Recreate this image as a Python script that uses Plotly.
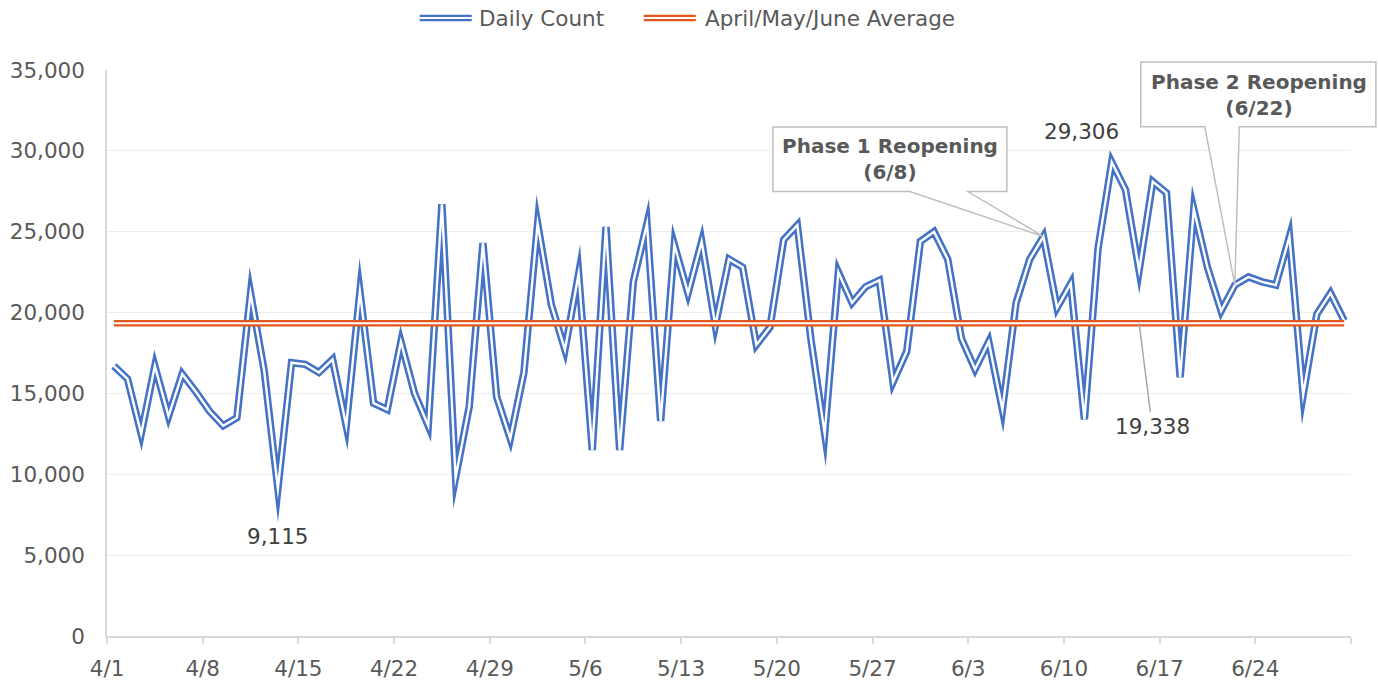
import plotly.graph_objects as go
import pandas as pd

# ---------------- data ----------------
DATES = pd.date_range("2020-04-01", "2020-06-30", freq="D")
DAILY_COUNT = [
    16700, 15900, 12500, 16700, 13600, 16200, 15100, 13900, 13000, 13500,   # 4/1-4/10
    21200, 16400, 9115, 16900, 16800, 16300, 17100, 13000, 21300, 14400,    # 4/11-4/20
    14000, 18200, 15000, 13000, 26700, 9800, 14200, 24300, 14800, 12200,    # 4/21-4/30
    16300, 25500, 20500, 17700, 22400, 11500, 25300, 11500, 21900, 25500,   # 5/1-5/10
    13300, 24200, 21200, 24400, 19200, 23300, 22800, 18000, 19100, 24500,   # 5/11-5/20
    25400, 18300, 12500, 22500, 20600, 21600, 22000, 15700, 17600, 24400,   # 5/21-5/30
    25000,                                                                  # 5/31
    23300, 18400, 16500, 18200, 14000, 20600, 23300, 24700, 20300, 21800,   # 6/1-6/10
    13400, 24000, 29306, 27600, 22600, 28100, 27400, 16000, 26400, 22800,   # 6/11-6/20
    20100, 21700, 22200, 21900, 21700, 24700, 14900, 19900, 21200, 19500,   # 6/21-6/30
]
AVERAGE = 19338
SERIES_NAMES = ["Daily Count", "April/May/June Average"]
TICK_DATES = pd.date_range("2020-04-01", "2020-07-01", freq="7D")
TICK_LABELS = ["4/1", "4/8", "4/15", "4/22", "4/29", "5/6", "5/13", "5/20",
               "5/27", "6/3", "6/10", "6/17", "6/24", ""]
Y_TICKS = [0, 5000, 10000, 15000, 20000, 25000, 30000, 35000]
MIN_DAY, MAX_DAY, PHASE1_DAY, PHASE2_DAY, AVG_LABEL_DAY = 12, 73, 68, 82, 75

# ---------------- style ----------------
BLUE = "#4472C4"
ORANGE = "#E2571E"
FONT = "DejaVu Sans"
TXT = "#595959"
FS = 21.5

X = DATES + pd.Timedelta(hours=12)   # points centred between day ticks
AVG = [AVERAGE] * len(DATES)

fig = go.Figure()
fig.add_trace(go.Scatter(x=X, y=DAILY_COUNT, mode="lines", name=SERIES_NAMES[0],
                         line=dict(color=BLUE, width=7.5), showlegend=False, hoverinfo="skip"))
fig.add_trace(go.Scatter(x=X, y=DAILY_COUNT, mode="lines", name=SERIES_NAMES[0],
                         line=dict(color="white", width=2.4), showlegend=False))
fig.add_trace(go.Scatter(x=X, y=AVG, mode="lines", name=SERIES_NAMES[1],
                         line=dict(color=ORANGE, width=6.5), showlegend=False, hoverinfo="skip"))
fig.add_trace(go.Scatter(x=X, y=AVG, mode="lines", name=SERIES_NAMES[1],
                         line=dict(color="white", width=2.0), showlegend=False))

shapes = []
annotations = []

# manual legend (double-line symbols)
def legend_item(x0, x1, xt, color, text):
    shapes.append(dict(type="line", xref="paper", yref="paper", x0=x0, x1=x1,
                       y0=1.0918, y1=1.0918, line=dict(color=color, width=6.5)))
    shapes.append(dict(type="line", xref="paper", yref="paper", x0=x0, x1=x1,
                       y0=1.0918, y1=1.0918, line=dict(color="white", width=2)))
    annotations.append(dict(xref="paper", yref="paper", x=xt, y=1.0918, text=text,
                            showarrow=False, xanchor="left", yanchor="middle",
                            font=dict(family=FONT, size=FS, color=TXT)))

legend_item(0.2514, 0.2932, 0.2973, BLUE, SERIES_NAMES[0])
legend_item(0.4315, 0.4733, 0.4790, ORANGE, SERIES_NAMES[1])

# callout boxes (paper coordinates)
def callout(left, right, bottom, top, w0, w1, tipx, tipy, text, cx, cy):
    path = (f"M {left},{top} L {right},{top} L {right},{bottom} L {w1},{bottom} "
            f"L {tipx},{tipy} L {w0},{bottom} L {left},{bottom} Z")
    shapes.append(dict(type="path", xref="paper", yref="paper", path=path,
                       fillcolor="white", line=dict(color="#BFBFBF", width=1.5),
                       layer="above"))
    annotations.append(dict(xref="paper", yref="paper", x=cx, y=cy, text=text,
                            showarrow=False, xanchor="center", yanchor="middle",
                            font=dict(family=FONT, size=20, color=TXT, weight="bold")))

callout(0.5353, 0.7234, 0.7852, 0.8994, 0.6454, 0.6920,
        (PHASE1_DAY + 0.5) / 91, DAILY_COUNT[PHASE1_DAY] / 35000,
        "Phase 1 Reopening<br>(6/8)", 0.6294, 0.8429)
callout(0.8310, 1.0200, 0.8999, 1.0141, 0.8825, 0.9102,
        (PHASE2_DAY + 0.5) / 91, DAILY_COUNT[PHASE2_DAY] / 35000,
        "Phase 2 Reopening<br>(6/22)", 0.9260, 0.9559)

# data labels
annotations.append(dict(x=X[MIN_DAY], y=DAILY_COUNT[MIN_DAY], text=f"{DAILY_COUNT[MIN_DAY]:,}",
                        showarrow=False, yshift=-48, xshift=0,
                        font=dict(family=FONT, size=FS, color="#404040")))
annotations.append(dict(x=X[MAX_DAY], y=DAILY_COUNT[MAX_DAY], text=f"{DAILY_COUNT[MAX_DAY]:,}",
                        showarrow=False, yshift=31, xshift=-30,
                        font=dict(family=FONT, size=FS, color="#404040")))
annotations.append(dict(x=X[AVG_LABEL_DAY], y=AVERAGE, text=f"{AVERAGE:,}",
                        showarrow=True, arrowhead=0, arrowwidth=1.5, arrowcolor="#A6A6A6",
                        ax=13, ay=103, standoff=0,
                        font=dict(family=FONT, size=FS, color="#404040")))

fig.update_layout(
    width=1378, height=681,
    margin=dict(l=107, r=27, t=70, b=45),
    paper_bgcolor="white", plot_bgcolor="white",
    showlegend=False,
    shapes=shapes, annotations=annotations,
    font=dict(family=FONT, size=FS, color=TXT),
    xaxis=dict(type="date", range=[TICK_DATES[0], TICK_DATES[-1]],
               tickmode="array", tickvals=TICK_DATES, ticktext=TICK_LABELS,
               showgrid=False, showline=True, linecolor="#D9D9D9", linewidth=1.5,
               ticks="outside", ticklen=6, tickcolor="#D9D9D9", tickwidth=1.5,
               ticklabelstandoff=6, automargin=False,
               tickfont=dict(family=FONT, size=FS, color=TXT), zeroline=False),
    yaxis=dict(range=[0, 35000], tickmode="array", tickvals=Y_TICKS, tickformat=",",
               showgrid=True, gridcolor="#EDEDED", gridwidth=1.2,
               showline=True, linecolor="#D9D9D9", linewidth=1.5,
               ticks="", ticklabelstandoff=16, zeroline=False, automargin=False,
               tickfont=dict(family=FONT, size=FS, color=TXT)),
)

POST = ("document.body.style.margin='0';"
        "document.querySelectorAll('path.js-line').forEach(function(p){"
        "p.style.strokeLinejoin='miter';p.style.strokeMiterlimit='10';});")

fig.write_html("out.html", post_script=POST, config={"displayModeBar": False})
